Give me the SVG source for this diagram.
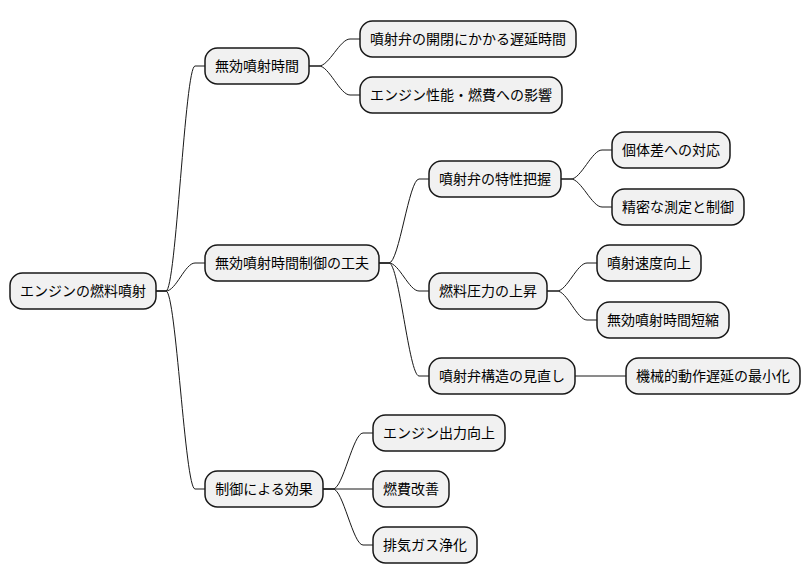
<svg xmlns="http://www.w3.org/2000/svg" width="810" height="583" viewBox="0 0 810 583">
<style>
.n rect{fill:#F1F1F1;stroke:#181818;stroke-width:1.5}
.n text{font-family:"Noto Sans CJK JP","Noto Sans",sans-serif;font-size:14px;fill:#000;text-anchor:middle}
.c path{fill:none;stroke:#181818;stroke-width:1}
</style>
<rect width="810" height="583" fill="#FFFFFF"/>
<g class="c" id="connectors">
<path d="M156,291 L166,291 C176,291 185,66 195,66 L205,66"/>
<path d="M156,291 L166,291 C176,291 185,263 195,263 L205,263"/>
<path d="M156,291 L166,291 C176,291 185,489 195,489 L205,489"/>
<path d="M309,66 L319,66 C329,66 340,39 350,39 L360,39"/>
<path d="M309,66 L319,66 C329,66 340,95 350,95 L360,95"/>
<path d="M379,263 L389,263 C399,263 409,179 419,179 L429,179"/>
<path d="M379,263 L389,263 C399,263 409,291 419,291 L429,291"/>
<path d="M379,263 L389,263 C399,263 409,376 419,376 L429,376"/>
<path d="M561,179 L571,179 C581,179 592,150 602,150 L612,150"/>
<path d="M561,179 L571,179 C581,179 592,207 602,207 L612,207"/>
<path d="M547,291 L557,291 C567,291 577,263 587,263 L597,263"/>
<path d="M547,291 L557,291 C567,291 577,320 587,320 L597,320"/>
<path d="M575,376 L626,376"/>
<path d="M323,489 L333,489 C343,489 353,433 363,433 L373,433"/>
<path d="M323,489 L373,489"/>
<path d="M323,489 L333,489 C343,489 353,545 363,545 L373,545"/>
</g>
<g class="n" id="root"><rect x="10" y="273" width="146" height="36" rx="12.5"/><text x="83" y="296">エンジンの燃料噴射</text></g>
<g class="n" id="n1"><rect x="205" y="48" width="104" height="36" rx="12.5"/><text x="257" y="71">無効噴射時間</text></g>
<g class="n" id="n1a"><rect x="360" y="21" width="216" height="36" rx="12.5"/><text x="468" y="44">噴射弁の開閉にかかる遅延時間</text></g>
<g class="n" id="n1b"><rect x="360" y="77" width="202" height="36" rx="12.5"/><text x="461" y="100">エンジン性能・燃費への影響</text></g>
<g class="n" id="n2"><rect x="205" y="245" width="174" height="36" rx="12.5"/><text x="292" y="268">無効噴射時間制御の工夫</text></g>
<g class="n" id="n2a"><rect x="429" y="161" width="132" height="36" rx="12.5"/><text x="495" y="184">噴射弁の特性把握</text></g>
<g class="n" id="n2a1"><rect x="612" y="132" width="118" height="36" rx="12.5"/><text x="671" y="155">個体差への対応</text></g>
<g class="n" id="n2a2"><rect x="612" y="189" width="132" height="36" rx="12.5"/><text x="678" y="212">精密な測定と制御</text></g>
<g class="n" id="n2b"><rect x="429" y="273" width="118" height="36" rx="12.5"/><text x="488" y="296">燃料圧力の上昇</text></g>
<g class="n" id="n2b1"><rect x="597" y="245" width="104" height="36" rx="12.5"/><text x="649" y="268">噴射速度向上</text></g>
<g class="n" id="n2b2"><rect x="597" y="302" width="132" height="36" rx="12.5"/><text x="663" y="325">無効噴射時間短縮</text></g>
<g class="n" id="n2c"><rect x="429" y="358" width="146" height="36" rx="12.5"/><text x="502" y="381">噴射弁構造の見直し</text></g>
<g class="n" id="n2c1"><rect x="626" y="358" width="174" height="36" rx="12.5"/><text x="713" y="381">機械的動作遅延の最小化</text></g>
<g class="n" id="n3"><rect x="205" y="471" width="118" height="36" rx="12.5"/><text x="264" y="494">制御による効果</text></g>
<g class="n" id="n3a"><rect x="373" y="415" width="132" height="36" rx="12.5"/><text x="439" y="438">エンジン出力向上</text></g>
<g class="n" id="n3b"><rect x="373" y="471" width="76" height="36" rx="12.5"/><text x="411" y="494">燃費改善</text></g>
<g class="n" id="n3c"><rect x="373" y="527" width="104" height="36" rx="12.5"/><text x="425" y="550">排気ガス浄化</text></g>
</svg>
